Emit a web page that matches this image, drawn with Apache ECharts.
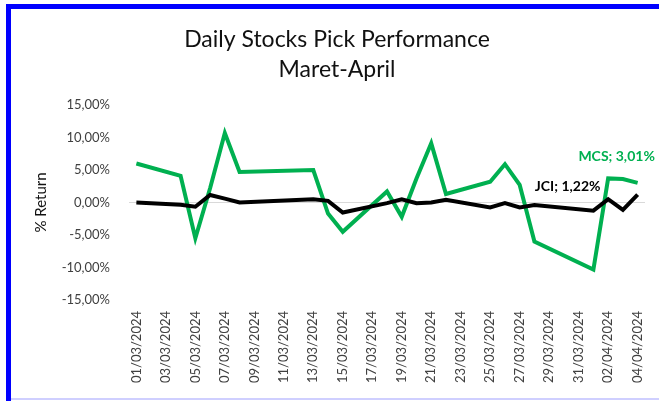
<!DOCTYPE html>
<html>
<head>
<meta charset="utf-8">
<script src="https://cdn.jsdelivr.net/npm/echarts@6/dist/echarts.min.js"></script>
<style>
html,body{margin:0;padding:0;background:#fff;}
#c{width:659px;height:401px;}
</style>
</head>
<body>
<div id="c"></div>
<script>
// Calendar days on the axis (01/03/2024 .. 04/04/2024)
const dates = [
  '01/03/2024','02/03/2024','03/03/2024','04/03/2024','05/03/2024','06/03/2024','07/03/2024',
  '08/03/2024','09/03/2024','10/03/2024','11/03/2024','12/03/2024','13/03/2024','14/03/2024',
  '15/03/2024','16/03/2024','17/03/2024','18/03/2024','19/03/2024','20/03/2024','21/03/2024',
  '22/03/2024','23/03/2024','24/03/2024','25/03/2024','26/03/2024','27/03/2024','28/03/2024',
  '29/03/2024','30/03/2024','31/03/2024','01/04/2024','02/04/2024','03/04/2024','04/04/2024'
];
// MCS daily returns (%), null = no trading day
const mcs = [
  6.0, null, null, 4.1, -5.5, 2.2, 10.7,
  4.7, null, null, null, null, 5.0, -1.7,
  -4.5, null, null, 1.7, -2.2, 3.7, 9.1,
  1.3, null, null, 3.2, 5.9, 2.7, -6.0,
  null, null, null, -10.3, 3.7, 3.6, 3.01
];
// JCI daily returns (%)
const jci = [
  0.0, null, null, -0.35, -0.65, 1.15, 0.6,
  0.0, null, null, null, null, 0.5, 0.25,
  -1.55, null, null, -0.1, 0.5, -0.1, 0.0,
  0.4, null, null, -0.75, -0.1, -0.75, -0.4,
  null, null, null, -1.25, 0.5, -1.15, 1.22
];
const yTicks = [-15, -10, -5, 0, 5, 10, 15];

const fmt = v => v.toFixed(2).replace('.', ',') + '%';
const FONT = 'Lato';
const last = dates.length - 1;

function withLastLabel(arr, name, color, offset) {
  return arr.map((v, i) => {
    if (i !== last) return v;
    return {
      value: v,
      label: {
        show: true,
        position: 'top',
        offset: offset,
        formatter: name + '; ' + fmt(v),
        color: color,
        fontFamily: FONT,
        fontWeight: 'bold',
        fontSize: 14
      }
    };
  });
}

const chart = echarts.init(document.getElementById('c'));
chart.setOption({
  animation: false,
  backgroundColor: '#fff',
  title: {
    text: 'Daily Stocks Pick Performance\nMaret-April',
    left: 332,
    textAlign: 'center',
    top: 20,
    textStyle: { fontFamily: FONT, fontSize: 23, fontWeight: 'normal', color: '#111', lineHeight: 30 }
  },
  graphic: [
    { type: 'rect', shape: { x: 6, y: 4, width: 653, height: 5 }, style: { fill: '#0000ff' }, silent: true },
    { type: 'rect', shape: { x: 6, y: 4, width: 5, height: 397 }, style: { fill: '#0000ff' }, silent: true },
    { type: 'rect', shape: { x: 11, y: 398, width: 648, height: 2 }, style: { fill: '#cfcfff' }, silent: true }
  ],
  grid: { left: 129, right: 14, top: 105, bottom: 101, containLabel: false },
  xAxis: {
    type: 'category',
    data: dates,
    boundaryGap: true,
    axisLine: { show: false },
    axisTick: { show: false },
    splitLine: { show: false },
    axisLabel: {
      interval: 1,
      rotate: 90,
      margin: 11,
      fontFamily: FONT,
      fontSize: 13,
      color: '#404040'
    }
  },
  yAxis: {
    type: 'value',
    min: yTicks[0],
    max: yTicks[yTicks.length - 1],
    interval: 5,
    name: '% Return',
    nameLocation: 'middle',
    nameGap: 80,
    nameTextStyle: { fontFamily: FONT, fontSize: 15, color: '#111' },
    axisLine: { show: false },
    axisTick: { show: false },
    splitLine: { show: false },
    axisLabel: {
      margin: 19,
      fontFamily: FONT,
      fontSize: 13,
      color: '#404040',
      formatter: fmt
    }
  },
  series: [
    {
      name: 'MCS',
      type: 'line',
      data: withLastLabel(mcs, 'MCS', '#00B050', [-21, -14]),
      connectNulls: true,
      showSymbol: true,
      symbol: 'circle',
      symbolSize: 0,
      lineStyle: { color: '#00B050', width: 4, join: 'miter' },
      itemStyle: { color: '#00B050' },
      z: 3,
      markLine: {
        silent: true,
        symbol: 'none',
        label: { show: false },
        lineStyle: { color: '#d9d9d9', width: 1, type: 'solid' },
        data: [{ yAxis: 0 }],
        z: 1
      }
    },
    {
      name: 'JCI',
      type: 'line',
      data: withLastLabel(jci, 'JCI', '#000', [-70, 4]),
      connectNulls: true,
      showSymbol: true,
      symbol: 'circle',
      symbolSize: 0,
      lineStyle: { color: '#000', width: 4, join: 'miter' },
      itemStyle: { color: '#000' },
      z: 4
    }
  ]
});
</script>
</body>
</html>
